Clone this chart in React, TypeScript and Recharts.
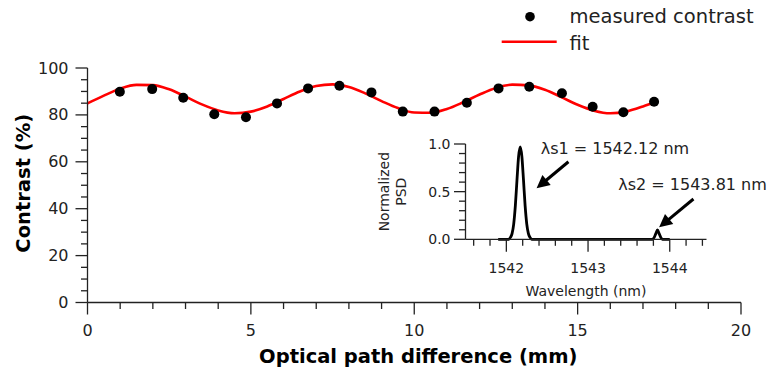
import React from 'react';
import {
  ComposedChart,
  LineChart,
  Line,
  Scatter,
  XAxis,
  YAxis,
  Legend,
  ReferenceLine,
  ReferenceDot,
  Label,
} from 'recharts';

const FONT = '"DejaVu Sans", sans-serif';
const INK = '#222222';

// ---- main chart data ----
const opdMeasured = [0.99, 1.98, 2.93, 3.88, 4.85, 5.8, 6.75, 7.71, 8.69, 9.65, 10.62, 11.61, 12.58, 13.52, 14.52, 15.46, 16.4, 17.34];
const contrastMeasured = [89.9, 91.0, 87.3, 80.3, 79.0, 84.9, 91.3, 92.4, 89.6, 81.4, 81.4, 85.2, 91.3, 92.0, 89.2, 83.5, 81.1, 85.6];

const opdFit = [0, 0.5, 1, 1.5, 2, 2.5, 3, 3.5, 4, 4.5, 5, 5.5, 6, 6.5, 7, 7.5, 8, 8.5, 9, 9.5, 10, 10.5, 11, 11.5, 12, 12.5, 13, 13.5, 14, 14.5, 15, 15.5, 16, 16.5, 17, 17.4];
const contrastFit = [84.9, 88.2, 91.2, 92.8, 92.7, 90.9, 87.8, 84.5, 81.9, 80.7, 81.4, 83.6, 86.8, 90.0, 92.3, 93.0, 91.9, 89.2, 85.9, 82.9, 81.0, 80.9, 82.5, 85.4, 88.7, 91.5, 92.9, 92.6, 90.7, 87.6, 84.3, 81.8, 80.7, 81.5, 83.6, 85.6];

const xTicks = [0, 1, 2, 3, 4, 5, 6, 7, 8, 9, 10, 11, 12, 13, 14, 15, 16, 17, 18, 19, 20];
const xTickLabels = [0, 5, 10, 15, 20];
const yTicks = [0, 5, 10, 15, 20, 25, 30, 35, 40, 45, 50, 55, 60, 65, 70, 75, 80, 85, 90, 95, 100];
const yTickLabels = [0, 20, 40, 60, 80, 100];

// ---- inset spectrum data ----
const wavelength = [1541.9, 1542.03, 1542.05, 1542.07, 1542.09, 1542.11, 1542.13, 1542.15, 1542.17, 1542.19, 1542.21, 1542.23, 1542.25, 1542.27, 1542.29, 1542.31, 1543.79, 1543.81, 1543.83, 1543.85, 1543.87, 1543.89, 1543.91, 1544.0];
const psd = [0, 0, 0.02, 0.06, 0.16, 0.35, 0.62, 0.87, 0.97, 0.87, 0.62, 0.35, 0.16, 0.06, 0.02, 0, 0, 0.02, 0.06, 0.098, 0.06, 0.02, 0, 0];

const wlTicks = [1541.6, 1541.8, 1542, 1542.2, 1542.4, 1542.6, 1542.8, 1543, 1543.2, 1543.4, 1543.6, 1543.8, 1544, 1544.2, 1544.4];
const wlTickLabels = [1542, 1543, 1544];
const psdTicks = [0, 0.1, 0.2, 0.3, 0.4, 0.5, 0.6, 0.7, 0.8, 0.9, 1.0];
const psdTickLabels = [0, 0.5, 1.0];

const peak1Label = 'λs1 = 1542.12 nm';
const peak2Label = 'λs2 = 1543.81 nm';
const peak1Text = { x: 1542.42, y: 0.958 };
const peak2Text = { x: 1543.37, y: 0.57 };
const arrow1 = [{ x: 1542.76, y: 0.814 }, { x: 1542.37, y: 0.535 }];
const arrow2 = [{ x: 1544.29, y: 0.423 }, { x: 1543.87, y: 0.126 }];

const measData = opdMeasured.map((x, i) => ({ x, c: contrastMeasured[i] }));
const fitData = opdFit.map((x, i) => ({ x, c: contrastFit[i] }));
const specData = wavelength.map((wl, i) => ({ wl, p: psd[i] }));

const MainXTick = (props: any) => {
  const { x, y, payload } = props;
  const major = xTickLabels.includes(payload.value);
  return (
    <g>
      <line x1={x} y1={y} x2={x} y2={y + (major ? 12 : 6.5)} stroke={INK} strokeWidth={1.3} />
      {major && (
        <text x={x} y={y + 28} textAnchor="middle" dominantBaseline="central" fontSize={16} fontFamily={FONT} fill={INK}>
          {payload.value}
        </text>
      )}
    </g>
  );
};

const MainYTick = (props: any) => {
  const { x, y, payload } = props;
  const major = yTickLabels.includes(payload.value);
  return (
    <g>
      <line x1={x} y1={y} x2={x - (major ? 12 : 6.5)} y2={y} stroke={INK} strokeWidth={1.3} />
      {major && (
        <text x={x - 19} y={y} textAnchor="end" dominantBaseline="central" fontSize={16} fontFamily={FONT} fill={INK}>
          {payload.value}
        </text>
      )}
    </g>
  );
};

const InsetXTick = (props: any) => {
  const { x, y, payload } = props;
  const major = wlTickLabels.includes(payload.value);
  return (
    <g>
      <line x1={x} y1={y} x2={x} y2={y + (major ? 12.5 : 6.5)} stroke={INK} strokeWidth={1.3} />
      {major && (
        <text x={x} y={y + 29} textAnchor="middle" dominantBaseline="central" fontSize={14} fontFamily={FONT} fill={INK}>
          {payload.value}
        </text>
      )}
    </g>
  );
};

const InsetYTick = (props: any) => {
  const { x, y, payload } = props;
  const major = psdTickLabels.includes(payload.value);
  return (
    <g>
      <line x1={x} y1={y} x2={x - (major ? 11.5 : 6.5)} y2={y} stroke={INK} strokeWidth={1.3} />
      {major && (
        <text x={x - 15} y={y} textAnchor="end" dominantBaseline="central" fontSize={14} fontFamily={FONT} fill={INK}>
          {payload.value.toFixed(1)}
        </text>
      )}
    </g>
  );
};

const Arrow = (p: any) => {
  const { x1, y1, x2, y2 } = p;
  const dx = x2 - x1;
  const dy = y2 - y1;
  const len = Math.hypot(dx, dy) || 1;
  const ux = dx / len;
  const uy = dy / len;
  const head = 13;
  const half = 6.5;
  const bx = x2 - ux * head;
  const by = y2 - uy * head;
  return (
    <g>
      <line x1={x1} y1={y1} x2={bx + ux * 2} y2={by + uy * 2} stroke="#000" strokeWidth={3} />
      <polygon points={`${x2},${y2} ${bx - uy * half},${by + ux * half} ${bx + uy * half},${by - ux * half}`} fill="#000" />
    </g>
  );
};

const textShape = (label: string) => (p: any) => (
  <text x={p.cx} y={p.cy} textAnchor="start" dominantBaseline="central" fontSize={16} fontFamily={FONT} fill={INK}>
    {label}
  </text>
);

const LegendContent = () => (
  <svg width={281} height={60} style={{ display: 'block' }}>
    <circle cx={40} cy={16.7} r={4.8} fill="#000" />
    <text x={79.5} y={16.7} dominantBaseline="central" fontSize={19.5} fontFamily={FONT} fill={INK}>
      measured contrast
    </text>
    <line x1={11.7} y1={41.7} x2={66.7} y2={41.7} stroke="#ff0000" strokeWidth={2.6} />
    <text x={79.5} y={43} dominantBaseline="central" fontSize={19.5} fontFamily={FONT} fill={INK}>
      fit
    </text>
  </svg>
);

export default function App() {
  return (
    <div style={{ position: 'absolute', left: 0, top: 0, width: 771, height: 371, background: '#fff' }}>
      <div style={{ position: 'absolute', left: 0, top: 0 }}>
        <ComposedChart width={771} height={371} margin={{ top: 68, right: 30, bottom: 0, left: 0 }}>
          <XAxis
            type="number"
            dataKey="x"
            domain={[0, 20]}
            ticks={xTicks}
            interval={0}
            tick={<MainXTick />}
            tickLine={false}
            tickSize={0}
            tickMargin={0}
            height={68.5}
            axisLine={{ stroke: INK, strokeWidth: 1.3 }}
          >
            <Label
              content={(p: any) => {
                const vb = p.viewBox;
                return (
                  <text x={vb.x + vb.width / 2 + 4} y={vb.y + 54} textAnchor="middle" dominantBaseline="central" fontSize={19.5} fontWeight="bold" fontFamily={FONT} fill="#000">
                    Optical path difference (mm)
                  </text>
                );
              }}
            />
          </XAxis>
          <YAxis
            type="number"
            domain={[0, 100]}
            ticks={yTicks}
            interval={0}
            tick={<MainYTick />}
            tickLine={false}
            tickSize={0}
            tickMargin={0}
            width={87.5}
            axisLine={{ stroke: INK, strokeWidth: 1.3 }}
          >
            <Label
              content={(p: any) => {
                const vb = p.viewBox;
                const cx = 23;
                const cy = vb.y + vb.height / 2 - 2;
                return (
                  <text x={cx} y={cy} transform={`rotate(-90 ${cx} ${cy})`} textAnchor="middle" dominantBaseline="central" fontSize={19.5} fontWeight="bold" fontFamily={FONT} fill="#000">
                    Contrast (%)
                  </text>
                );
              }}
            />
          </YAxis>
          <Scatter
            data={measData}
            dataKey="c"
            isAnimationActive={false}
            shape={(p: any) => <circle cx={p.cx} cy={p.cy} r={5} fill="#000" />}
          />
          <Line
            data={fitData}
            dataKey="c"
            type="monotone"
            stroke="#ff0000"
            strokeWidth={2.6}
            dot={false}
            activeDot={false}
            isAnimationActive={false}
          />
          <Legend
            layout="vertical"
            align="center"
            verticalAlign="middle"
            wrapperStyle={{ position: 'absolute', left: 490, top: 0, width: 281, height: 60 }}
            content={() => <LegendContent />}
          />
        </ComposedChart>
      </div>
      <div style={{ position: 'absolute', left: 0, top: 0 }}>
        <LineChart width={771} height={371} data={specData} margin={{ top: 144, right: 64.5, bottom: 91.7, left: 405.5 }}>
          <XAxis
            type="number"
            dataKey="wl"
            domain={[1541.5, 1544.45]}
            ticks={wlTicks}
            interval={0}
            tick={<InsetXTick />}
            tickLine={false}
            tickSize={0}
            tickMargin={0}
            height={40}
            axisLine={{ stroke: INK, strokeWidth: 1.3 }}
          >
            <Label
              content={(p: any) => {
                const vb = p.viewBox;
                return (
                  <text x={vb.x + vb.width / 2} y={vb.y + 52} textAnchor="middle" dominantBaseline="central" fontSize={14} fontFamily={FONT} fill={INK}>
                    Wavelength (nm)
                  </text>
                );
              }}
            />
          </XAxis>
          <YAxis
            type="number"
            domain={[0, 1]}
            ticks={psdTicks}
            interval={0}
            tick={<InsetYTick />}
            tickLine={false}
            tickSize={0}
            tickMargin={0}
            width={60}
            axisLine={{ stroke: INK, strokeWidth: 1.3 }}
          >
            <Label
              content={(p: any) => {
                const vb = p.viewBox;
                const cy = vb.y + vb.height / 2;
                const x1 = vb.x - 21.5;
                const x2 = vb.x - 4.5;
                return (
                  <g>
                    <text x={x1} y={cy} transform={`rotate(-90 ${x1} ${cy})`} textAnchor="middle" dominantBaseline="central" fontSize={14} fontFamily={FONT} fill={INK}>
                      Normalized
                    </text>
                    <text x={x2} y={cy} transform={`rotate(-90 ${x2} ${cy})`} textAnchor="middle" dominantBaseline="central" fontSize={14} fontFamily={FONT} fill={INK}>
                      PSD
                    </text>
                  </g>
                );
              }}
            />
          </YAxis>
          <Line
            dataKey="p"
            type="monotone"
            stroke="#000"
            strokeWidth={2.8}
            dot={false}
            activeDot={false}
            isAnimationActive={false}
          />
          <ReferenceLine segment={arrow1} ifOverflow="visible" shape={Arrow} />
          <ReferenceLine segment={arrow2} ifOverflow="visible" shape={Arrow} />
          <ReferenceDot x={peak1Text.x} y={peak1Text.y} r={0} ifOverflow="visible" shape={textShape(peak1Label)} />
          <ReferenceDot x={peak2Text.x} y={peak2Text.y} r={0} ifOverflow="visible" shape={textShape(peak2Label)} />
        </LineChart>
      </div>
    </div>
  );
}
